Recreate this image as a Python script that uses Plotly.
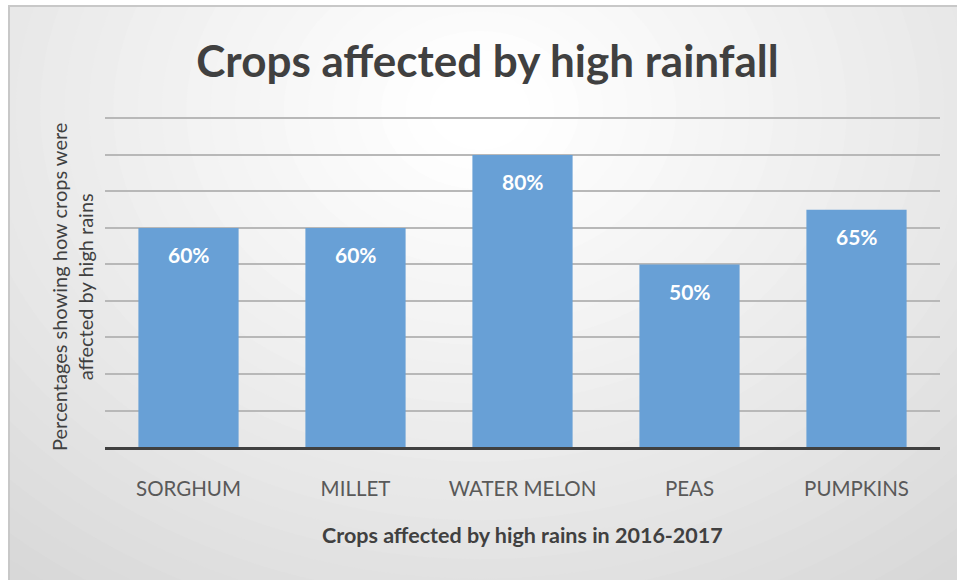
import plotly.graph_objects as go

# Chart data
crops = ["SORGHUM", "MILLET", "WATER MELON", "PEAS", "PUMPKINS"]
affected_pct = [60, 60, 80, 50, 65]
y_ticks = [0, 10, 20, 30, 40, 50, 60, 70, 80, 90]

W, H = 957, 580
ML, MR, MT, MB = 105, 17, 117, 133
PW, PH = W - ML - MR, H - MT - MB


def px(xp):
    return (xp - ML) / PW


def py(yp):
    return (H - MB - yp) / PH


FONT = "Lato"
TEXT = "#595959"

fig = go.Figure()
fig.add_trace(go.Bar(
    x=crops,
    y=affected_pct,
    marker=dict(color="#68a0d6", line=dict(width=0)),
    width=0.6,
    hoverinfo="skip",
))

# value labels placed just below each bar top
for c, v in zip(crops, affected_pct):
    fig.add_annotation(
        x=c, y=v, xref="x", yref="y",
        text=f"<b>{v}%</b>", showarrow=False,
        yanchor="middle", yshift=-27,
        font=dict(family=FONT, size=21, color="white"),
    )

# soft radial background: concentric ellipses from grey edge to white centre
shapes = []
cx, cy = 480, 110
n = 40
for i in range(n):
    t = i / (n - 1)
    r = 760 * (1 - t) + 40
    g = int(round(0xc4 + (0xff - 0xc4) * (t ** 0.8)))
    col = f"rgb({g},{g},{g})"
    shapes.append(dict(
        type="circle", xref="paper", yref="paper", layer="below",
        x0=px(cx - r * 1.25), x1=px(cx + r * 1.25),
        y0=py(cy + r), y1=py(cy - r),
        fillcolor=col, line=dict(width=0),
    ))
# white page margin around the chart frame
shapes.append(dict(type="rect", xref="paper", yref="paper", layer="below",
                   x0=px(-50), x1=px(W + 50), y0=py(5), y1=py(-50),
                   fillcolor="white", line=dict(width=0)))
shapes.append(dict(type="rect", xref="paper", yref="paper", layer="below",
                   x0=px(-50), x1=px(8), y0=py(H + 50), y1=py(-50),
                   fillcolor="white", line=dict(width=0)))
# frame edges
shapes.append(dict(type="line", xref="paper", yref="paper", layer="below",
                   x0=px(8), x1=px(W + 5), y0=py(6), y1=py(6),
                   line=dict(color="#c8c8c8", width=2)))
shapes.append(dict(type="line", xref="paper", yref="paper", layer="below",
                   x0=px(9), x1=px(9), y0=py(6), y1=py(H + 5),
                   line=dict(color="#c8c8c8", width=2)))

fig.update_layout(
    width=W, height=H,
    margin=dict(l=ML, r=MR, t=MT, b=MB),
    paper_bgcolor="white",
    plot_bgcolor="rgba(0,0,0,0)",
    shapes=shapes,
    showlegend=False,
    bargap=0.4,
    title=dict(
        text="<b>Crops affected by high rainfall</b>",
        x=(ML + PW / 2 - 35) / W, xanchor="center",
        y=1 - 62 / H, yanchor="middle",
        font=dict(family=FONT, size=44, color="#404040"),
    ),
    xaxis=dict(
        showgrid=False, showline=True, linecolor="#404040", linewidth=3,
        ticks="", tickfont=dict(family=FONT, size=20.5, color=TEXT),
        ticklabelstandoff=21,
        fixedrange=True,
    ),
    yaxis=dict(
        range=[0, 90.4], tickvals=y_ticks, showticklabels=False,
        showgrid=True, gridcolor="#b8b8b8", gridwidth=2,
        zeroline=False, showline=False, ticks="",
        fixedrange=True,
    ),
)

# axis titles
fig.add_annotation(
    x=0.5, y=py(535), xref="paper", yref="paper",
    text="<b>Crops affected by high rains in 2016-2017</b>", showarrow=False,
    xanchor="center", yanchor="middle",
    font=dict(family=FONT, size=21.5, color="#404040"),
)
fig.add_annotation(
    x=px(72), y=py(287), xref="paper", yref="paper",
    text="Percentages showing how crops were<br>affected by high rains",
    showarrow=False, textangle=-90,
    xanchor="center", yanchor="middle",
    font=dict(family=FONT, size=20, color="#404040"),
)

fig.write_html("out.html")
